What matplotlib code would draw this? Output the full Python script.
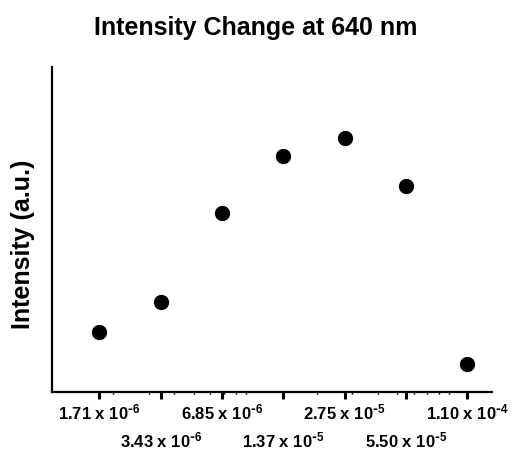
import matplotlib
matplotlib.use('Agg')
import matplotlib.pyplot as plt
from matplotlib.ticker import LogLocator, NullFormatter

plt.rcParams.update({
    'font.family': ['Liberation Sans', 'DejaVu Sans'],
    'font.weight': 'bold',
    'mathtext.default': 'regular',
})

# concentration (M) and intensity (a.u.)
conc = [1.71e-6, 3.43e-6, 6.85e-6, 1.37e-5, 2.75e-5, 5.50e-5, 1.10e-4]
intensity = [18.5, 27.7, 55.1, 72.6, 78.2, 63.4, 8.6]
tick_labels = ['1.71 x 10$^{\\text{-}6}$', '3.43 x 10$^{\\text{-}6}$', '6.85 x 10$^{\\text{-}6}$',
               '1.37 x 10$^{\\text{-}5}$', '2.75 x 10$^{\\text{-}5}$', '5.50 x 10$^{\\text{-}5}$',
               '1.10 x 10$^{\\text{-}4}$']

fig = plt.figure(figsize=(5.12, 4.56), dpi=100)
ax = fig.add_axes([0.1016, 0.138, 0.8594, 0.713])

ax.plot(conc, intensity, 'o', color='black', markersize=10)

ax.set_xscale('log')
ax.set_xlim(1.0e-6, 1.46e-4)
ax.set_ylim(0, 100)

ax.set_xticks(conc)
ax.set_xticklabels(tick_labels, fontsize=12, fontweight='bold')
ax.xaxis.set_minor_locator(LogLocator(base=10, subs=range(2, 10)))
ax.xaxis.set_minor_formatter(NullFormatter())
ax.tick_params(axis='x', which='major', direction='out', length=5, width=2.2)
ax.tick_params(axis='x', which='minor', direction='out', length=1.5, width=1)
# stagger labels on two rows
for i, t in enumerate(ax.xaxis.get_major_ticks()):
    t.set_pad(2 if i % 2 == 0 else 22)
ax.set_yticks([])

for s in ['top', 'right']:
    ax.spines[s].set_visible(False)
for s in ['left', 'bottom']:
    ax.spines[s].set_linewidth(1.6)

ax.set_ylabel('Intensity (a.u.)', fontsize=18, fontweight='bold')
ax.yaxis.set_label_coords(-0.038, 0.458)
fig.suptitle('Intensity Change at 640 nm', fontsize=18, fontweight='bold', y=0.965)

fig.savefig('out.png', dpi=100)
